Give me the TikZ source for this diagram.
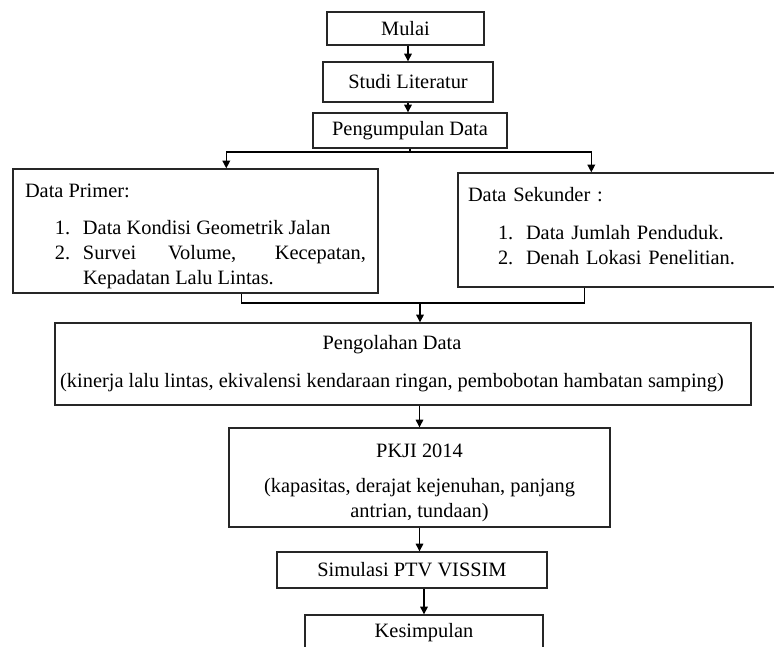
\documentclass[tikz,border=0pt]{standalone}
\usepackage{fontspec}
\setmainfont{Liberation Serif}
\usepackage{tikz}
\usetikzlibrary{arrows.meta,positioning,calc}
\newlength{\pxu}
\setlength{\pxu}{0.025cm}
\hyphenpenalty=10000
\exhyphenpenalty=10000
\newcommand{\litem}[2]{\par\noindent\hangindent=58\pxu\hangafter=1\hspace*{30\pxu}\makebox[28\pxu][l]{#1}#2\par}

\begin{document}
\begin{tikzpicture}[x=0.025cm,y=-0.025cm,
  box/.style={draw=black!85,line width=1pt,inner sep=0pt,align=center,font=\fontsize{14.5}{17.8}\selectfont},
  arr/.style={-{Triangle[length=1.9mm,width=1.9mm]},line width=0.9pt},
  link/.style={line width=0.9pt}]
 \useasboundingbox (0,0) rectangle (774,646);
 \node[box,minimum width=157\pxu,minimum height=33\pxu] (mulai) at (405.5,28.5) {Mulai};
 \node[box,minimum width=170\pxu,minimum height=40\pxu] (studi) at (408,82) {Studi Literatur};
 \node[box,minimum width=194\pxu,minimum height=35\pxu] (kumpul) at (410,130.5) {Pengumpulan Data};
 \node[box,minimum width=365\pxu,minimum height=124\pxu,text width=341\pxu,align=justify] (primer) at (195.5,231)
   {\rule{0pt}{24\pxu}Data Primer:\par\vspace{12\pxu}\litem{1.}{Data Kondisi Geometrik Jalan}\litem{2.}{Survei Volume, Kecepatan, Kepadatan Lalu Lintas.}};
 \node[box,minimum width=332\pxu,minimum height=114\pxu,text width=312\pxu,align=left] (sekunder) at (624,230)
   {Data Sekunder :\par\vspace{13\pxu}\litem{1.}{Data Jumlah Penduduk.}\litem{2.}{Denah Lokasi Penelitian.\rule[-9\pxu]{0pt}{9\pxu}}};
 \node[box,minimum width=696\pxu,minimum height=82\pxu] (olah) at (403,364)
   {\hspace*{-22\pxu}Pengolahan Data\\[13\pxu]\hspace*{-22\pxu}(kinerja lalu lintas, ekivalensi kendaraan ringan, pembobotan hambatan samping)};
 \node[box,minimum width=381\pxu,minimum height=99\pxu] (pkji) at (419.5,477.5)
   {\rule{0pt}{24\pxu}PKJI 2014\\[10\pxu](kapasitas, derajat kejenuhan, panjang\\antrian, tundaan)};
 \node[box,minimum width=270\pxu,minimum height=36\pxu] (sim) at (412,570) {Simulasi PTV VISSIM};
 \node[box,minimum width=238\pxu,minimum height=36\pxu] (kes) at (424,633) {Kesimpulan};
 \draw[arr] (studi.north |- mulai.south) -- (studi.north);
 \draw[arr] (studi.south) -- (studi.south |- kumpul.north);
 \coordinate (split) at (410,152);
 \draw[link] (kumpul.south) -- (split);
 \draw[arr] (split) -| ([xshift=214\pxu]primer.north west);
 \draw[arr] (split) -| ([xshift=134\pxu]sekunder.north west);
 \coordinate (merge) at (420,303);
 \draw[link] ([xshift=229\pxu]primer.south west) |- (merge) -| ([xshift=127\pxu]sekunder.south west);
 \draw[arr] (merge) -- (merge |- olah.north);
 \draw[arr] (pkji.north |- olah.south) -- (pkji.north);
 \draw[arr] (pkji.south) -- (pkji.south |- sim.north);
 \draw[arr] (kes.north |- sim.south) -- (kes.north);
\end{tikzpicture}
\end{document}
